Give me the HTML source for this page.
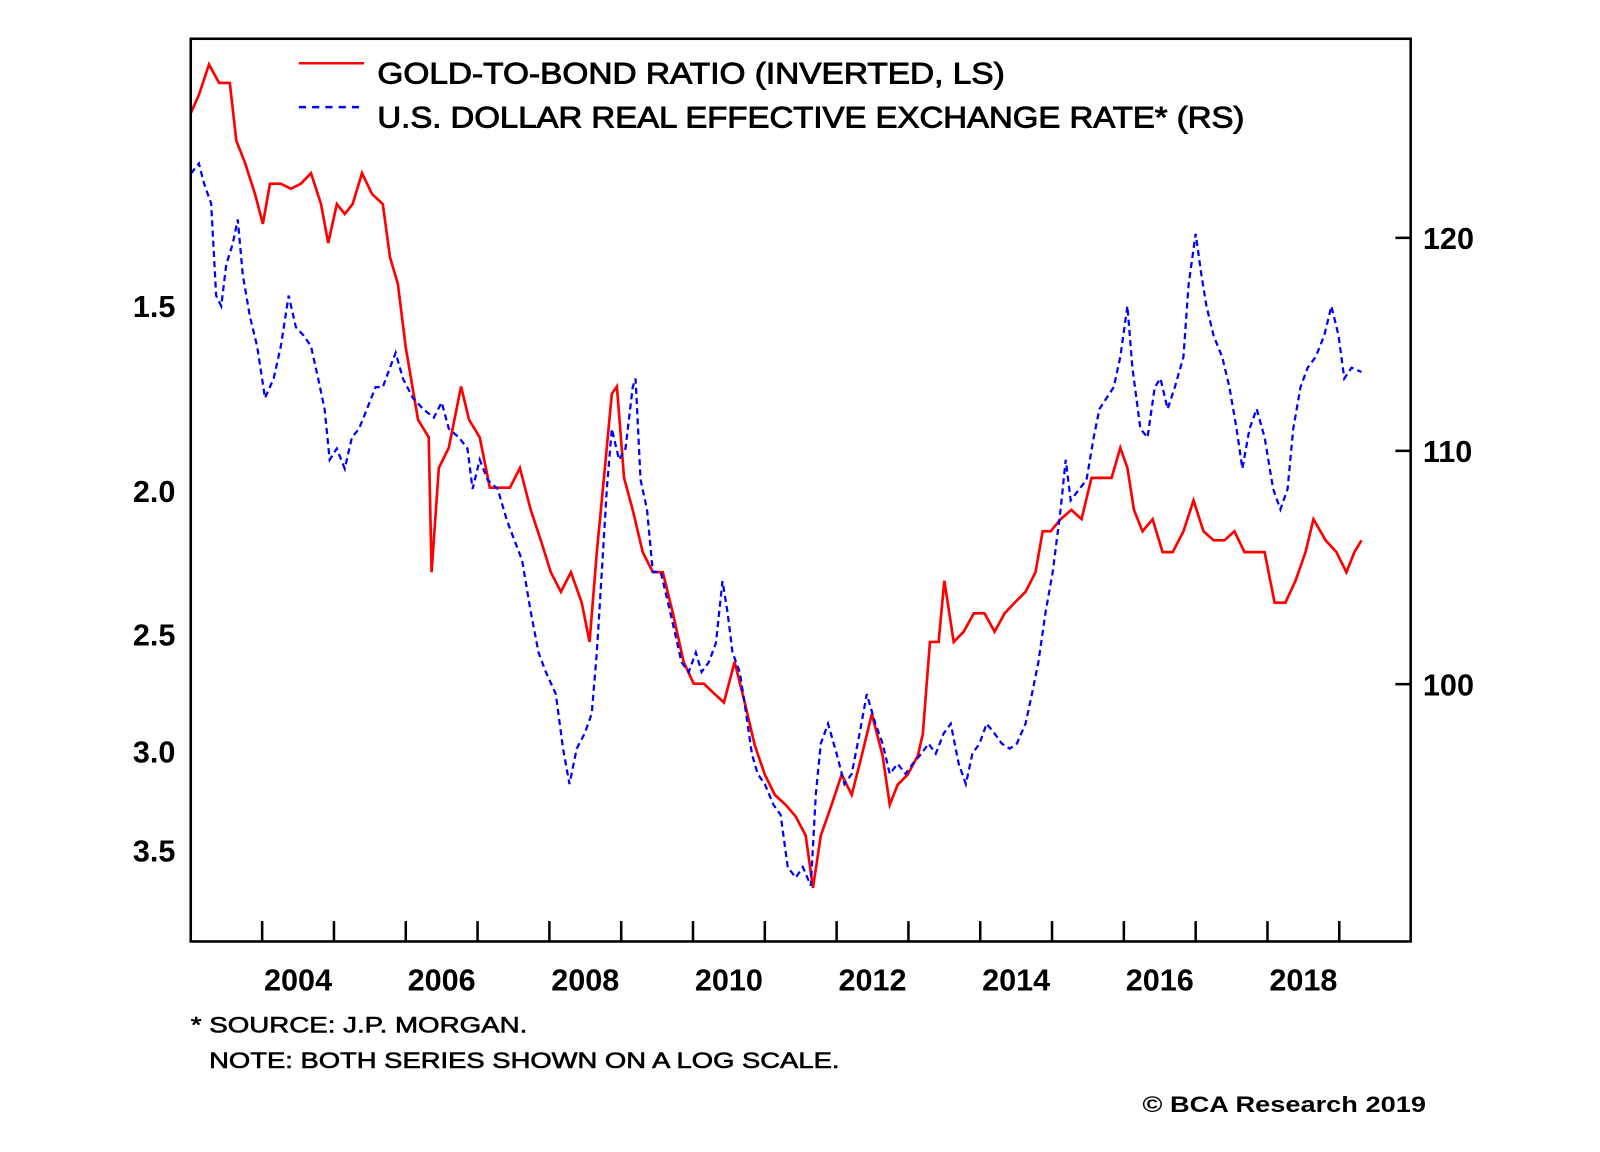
<!DOCTYPE html>
<html><head><meta charset="utf-8"><style>
html,body{margin:0;padding:0;background:#fff;}
svg{display:block;font-family:"Liberation Sans",Arial,sans-serif;}
</style></head><body>
<svg id="chart" width="1600" height="1152" viewBox="0 0 1568.6 1129.4" xmlns="http://www.w3.org/2000/svg">
<rect x="0" y="0" width="1568.6" height="1129.4" fill="#fff"/>
<g id="plot"></g>
<rect x="187" y="38" width="1196" height="885" fill="none" stroke="#000" stroke-width="2.5"/>
<g id="ticks"></g>
<g>
<line x1="293" y1="62" x2="357" y2="62" stroke="#f00" stroke-width="2.5"/>
<text x="370" y="82" font-size="29" stroke="#000" stroke-width="0.9" textLength="615" lengthAdjust="spacingAndGlyphs">GOLD-TO-BOND RATIO (INVERTED, LS)</text>
<line x1="293" y1="105" x2="357" y2="105" stroke="#00f" stroke-width="2.5" stroke-dasharray="7,6"/>
<text x="370" y="125" font-size="29" stroke="#000" stroke-width="0.9" textLength="850" lengthAdjust="spacingAndGlyphs">U.S. DOLLAR REAL EFFECTIVE EXCHANGE RATE* (RS)</text>
</g>
<text x="187" y="1012" font-size="22" stroke="#000" stroke-width="0.6" textLength="330" lengthAdjust="spacingAndGlyphs">* SOURCE: J.P. MORGAN.</text>
<text x="205" y="1047" font-size="22" stroke="#000" stroke-width="0.6" textLength="618" lengthAdjust="spacingAndGlyphs">NOTE: BOTH SERIES SHOWN ON A LOG SCALE.</text>
<text x="1120" y="1090" font-size="22" font-weight="bold" textLength="278" lengthAdjust="spacingAndGlyphs">© BCA Research 2019</text>
</svg>
<script>
const goldDates=[2003.01,2003.12,2003.26,2003.40,2003.55,2003.64,2003.76,2003.90,2004.01,2004.11,2004.26,2004.40,2004.54,2004.68,2004.82,2004.92,2005.04,2005.15,2005.26,2005.39,2005.53,2005.68,2005.78,2005.89,2006.00,2006.17,2006.32,2006.36,2006.46,2006.60,2006.77,2006.88,2007.03,2007.17,2007.31,2007.45,2007.59,2007.74,2007.88,2008.02,2008.16,2008.30,2008.45,2008.56,2008.66,2008.76,2008.87,2008.94,2009.04,2009.16,2009.30,2009.44,2009.58,2009.72,2009.87,2010.01,2010.15,2010.29,2010.43,2010.58,2010.72,2010.86,2011.00,2011.14,2011.29,2011.43,2011.57,2011.67,2011.78,2011.93,2012.07,2012.21,2012.35,2012.49,2012.64,2012.74,2012.85,2012.99,2013.13,2013.20,2013.30,2013.42,2013.50,2013.63,2013.77,2013.91,2014.06,2014.20,2014.34,2014.48,2014.63,2014.77,2014.87,2014.98,2015.12,2015.27,2015.41,2015.55,2015.69,2015.83,2015.95,2016.05,2016.14,2016.26,2016.40,2016.54,2016.68,2016.83,2016.97,2017.11,2017.25,2017.40,2017.54,2017.68,2017.82,2017.96,2018.10,2018.25,2018.39,2018.53,2018.64,2018.81,2018.96,2019.10,2019.21,2019.31];
const goldValues=[1.11,1.08,1.03,1.06,1.06,1.16,1.20,1.26,1.32,1.24,1.24,1.25,1.24,1.22,1.28,1.36,1.28,1.30,1.28,1.22,1.26,1.28,1.39,1.45,1.60,1.79,1.84,2.27,1.93,1.87,1.70,1.79,1.84,1.99,1.99,1.99,1.93,2.06,2.16,2.27,2.34,2.27,2.38,2.53,2.20,1.96,1.72,1.70,1.96,2.06,2.20,2.27,2.27,2.42,2.61,2.70,2.70,2.74,2.78,2.61,2.78,2.97,3.11,3.21,3.26,3.32,3.42,3.71,3.42,3.26,3.11,3.21,3.02,2.83,3.02,3.26,3.16,3.11,3.02,2.92,2.53,2.53,2.30,2.53,2.49,2.42,2.42,2.49,2.42,2.38,2.34,2.27,2.13,2.13,2.09,2.06,2.09,1.96,1.96,1.96,1.87,1.93,2.06,2.13,2.09,2.20,2.20,2.13,2.03,2.13,2.16,2.16,2.13,2.20,2.20,2.20,2.38,2.38,2.30,2.20,2.09,2.16,2.20,2.27,2.20,2.16];
const usdDates=[2003.01,2003.12,2003.19,2003.29,2003.36,2003.43,2003.50,2003.59,2003.66,2003.73,2003.83,2003.93,2004.04,2004.16,2004.26,2004.37,2004.47,2004.58,2004.68,2004.78,2004.87,2004.94,2005.04,2005.15,2005.25,2005.35,2005.46,2005.58,2005.68,2005.78,2005.86,2005.96,2006.10,2006.24,2006.39,2006.50,2006.60,2006.74,2006.86,2006.93,2007.03,2007.14,2007.28,2007.41,2007.52,2007.62,2007.74,2007.85,2007.95,2008.09,2008.19,2008.28,2008.38,2008.49,2008.59,2008.66,2008.73,2008.80,2008.87,2008.97,2009.06,2009.16,2009.20,2009.27,2009.36,2009.44,2009.55,2009.65,2009.75,2009.84,2009.94,2010.04,2010.12,2010.22,2010.32,2010.41,2010.48,2010.55,2010.65,2010.72,2010.82,2010.90,2011.00,2011.12,2011.22,2011.32,2011.43,2011.53,2011.64,2011.71,2011.78,2011.88,2012.00,2012.11,2012.21,2012.32,2012.42,2012.54,2012.64,2012.74,2012.85,2012.96,2013.06,2013.18,2013.28,2013.38,2013.49,2013.59,2013.70,2013.80,2013.89,2013.99,2014.09,2014.20,2014.30,2014.41,2014.51,2014.63,2014.72,2014.81,2014.91,2015.01,2015.12,2015.19,2015.26,2015.38,2015.48,2015.58,2015.66,2015.76,2015.86,2015.95,2016.05,2016.12,2016.23,2016.33,2016.43,2016.51,2016.61,2016.71,2016.83,2016.90,2017.00,2017.08,2017.15,2017.25,2017.37,2017.47,2017.57,2017.65,2017.75,2017.85,2017.96,2018.08,2018.18,2018.28,2018.36,2018.46,2018.56,2018.67,2018.79,2018.89,2018.99,2019.07,2019.17,2019.31];
const usdValues=[123.2,123.7,122.7,121.7,117.2,116.7,118.7,119.7,120.9,118.2,116.2,114.8,112.4,113.3,114.8,117.2,115.7,115.3,114.8,113.3,111.9,109.6,110.1,109.2,110.6,111.0,111.9,112.9,112.9,113.8,114.5,113.3,112.4,111.9,111.5,112.2,111.0,110.6,110.1,108.3,109.6,108.7,108.3,106.9,106.0,105.2,103.0,101.3,100.5,99.6,97.4,96.0,97.4,98.0,98.8,101.3,104.7,108.3,111.0,109.6,110.1,112.9,113.3,108.7,107.4,104.7,104.7,103.4,102.1,100.9,100.5,101.3,100.5,100.9,101.7,104.3,103.0,101.3,100.5,99.2,97.2,96.4,96.0,95.2,94.8,92.8,92.4,92.8,92.1,95.6,97.6,98.4,97.2,96.0,96.4,98.0,99.6,98.4,97.6,96.4,96.8,96.4,96.8,97.2,97.6,97.2,98.0,98.4,96.8,96.0,97.2,97.6,98.4,98.0,97.6,97.4,97.6,98.4,99.6,100.9,103.0,104.7,107.4,109.6,107.8,108.3,108.7,110.6,111.9,112.4,112.9,114.3,116.7,113.8,111.0,110.6,112.9,113.3,111.9,112.9,114.3,117.7,120.2,118.2,116.7,115.3,114.3,112.9,111.0,109.2,111.0,111.9,110.6,108.3,107.4,108.3,111.0,112.9,113.8,114.3,115.3,116.7,115.3,113.3,113.8,113.6];
const leftTicks=[1.5,2.0,2.5,3.0,3.5];
const leftTickLabels=["1.5","2.0","2.5","3.0","3.5"];
const rightTicks=[100,110,120];
const yearTicks=[2004,2005,2006,2007,2008,2009,2010,2011,2012,2013,2014,2015,2016,2017,2018,2019];
const yearLabels=[2004,2006,2008,2010,2012,2014,2016,2018];

const NS='http://www.w3.org/2000/svg';
const xS=t=>257+70.4*(t-2004);
const yL=v=>300+630*(Math.log(v)-Math.log(1.5));
const yR=v=>442-2400*(Math.log(v)-Math.log(110));
function mk(tag,attrs,parent){const e=document.createElementNS(NS,tag);for(const k in attrs)e.setAttribute(k,attrs[k]);parent.appendChild(e);return e;}
const plot=document.getElementById('plot');
const ticks=document.getElementById('ticks');

let d1=goldDates.map((t,i)=>(i?'L':'M')+xS(t).toFixed(1)+','+yL(goldValues[i]).toFixed(1)).join('');
const p1=mk('path',{d:d1,fill:'none',stroke:'#f00','stroke-width':2.6,'stroke-linejoin':'miter'},plot);


let d2=usdDates.map((t,i)=>(i?'L':'M')+xS(t).toFixed(1)+','+yR(usdValues[i]).toFixed(1)).join('');
const p2=mk('path',{d:d2,fill:'none',stroke:'#00f','stroke-width':2.2,'stroke-dasharray':'6,4'},plot);



leftTicks.forEach((v,i)=>{
  const t=mk('text',{x:172,y:yL(v)+11,'font-size':30,'font-weight':'bold','text-anchor':'end'},ticks);
  t.textContent=leftTickLabels[i];
  
  
});
rightTicks.forEach(v=>{
  const l=mk('line',{x1:1368,x2:1383,y1:yR(v),y2:yR(v),stroke:'#000','stroke-width':2.5},ticks);
  
  
  const t=mk('text',{x:1395,y:yR(v)+11,'font-size':30,'font-weight':'bold'},ticks);
  t.textContent=String(v);
  
  
});
yearTicks.forEach(y=>{
  const l=mk('line',{x1:xS(y),x2:xS(y),y1:903,y2:923,stroke:'#000','stroke-width':2.5},ticks);
  
  
});
yearLabels.forEach(y=>{
  const t=mk('text',{x:xS(y+0.5),y:971,'font-size':30,'font-weight':'bold','text-anchor':'middle'},ticks);
  t.textContent=String(y);
  
  
});
</script>
</body></html>
